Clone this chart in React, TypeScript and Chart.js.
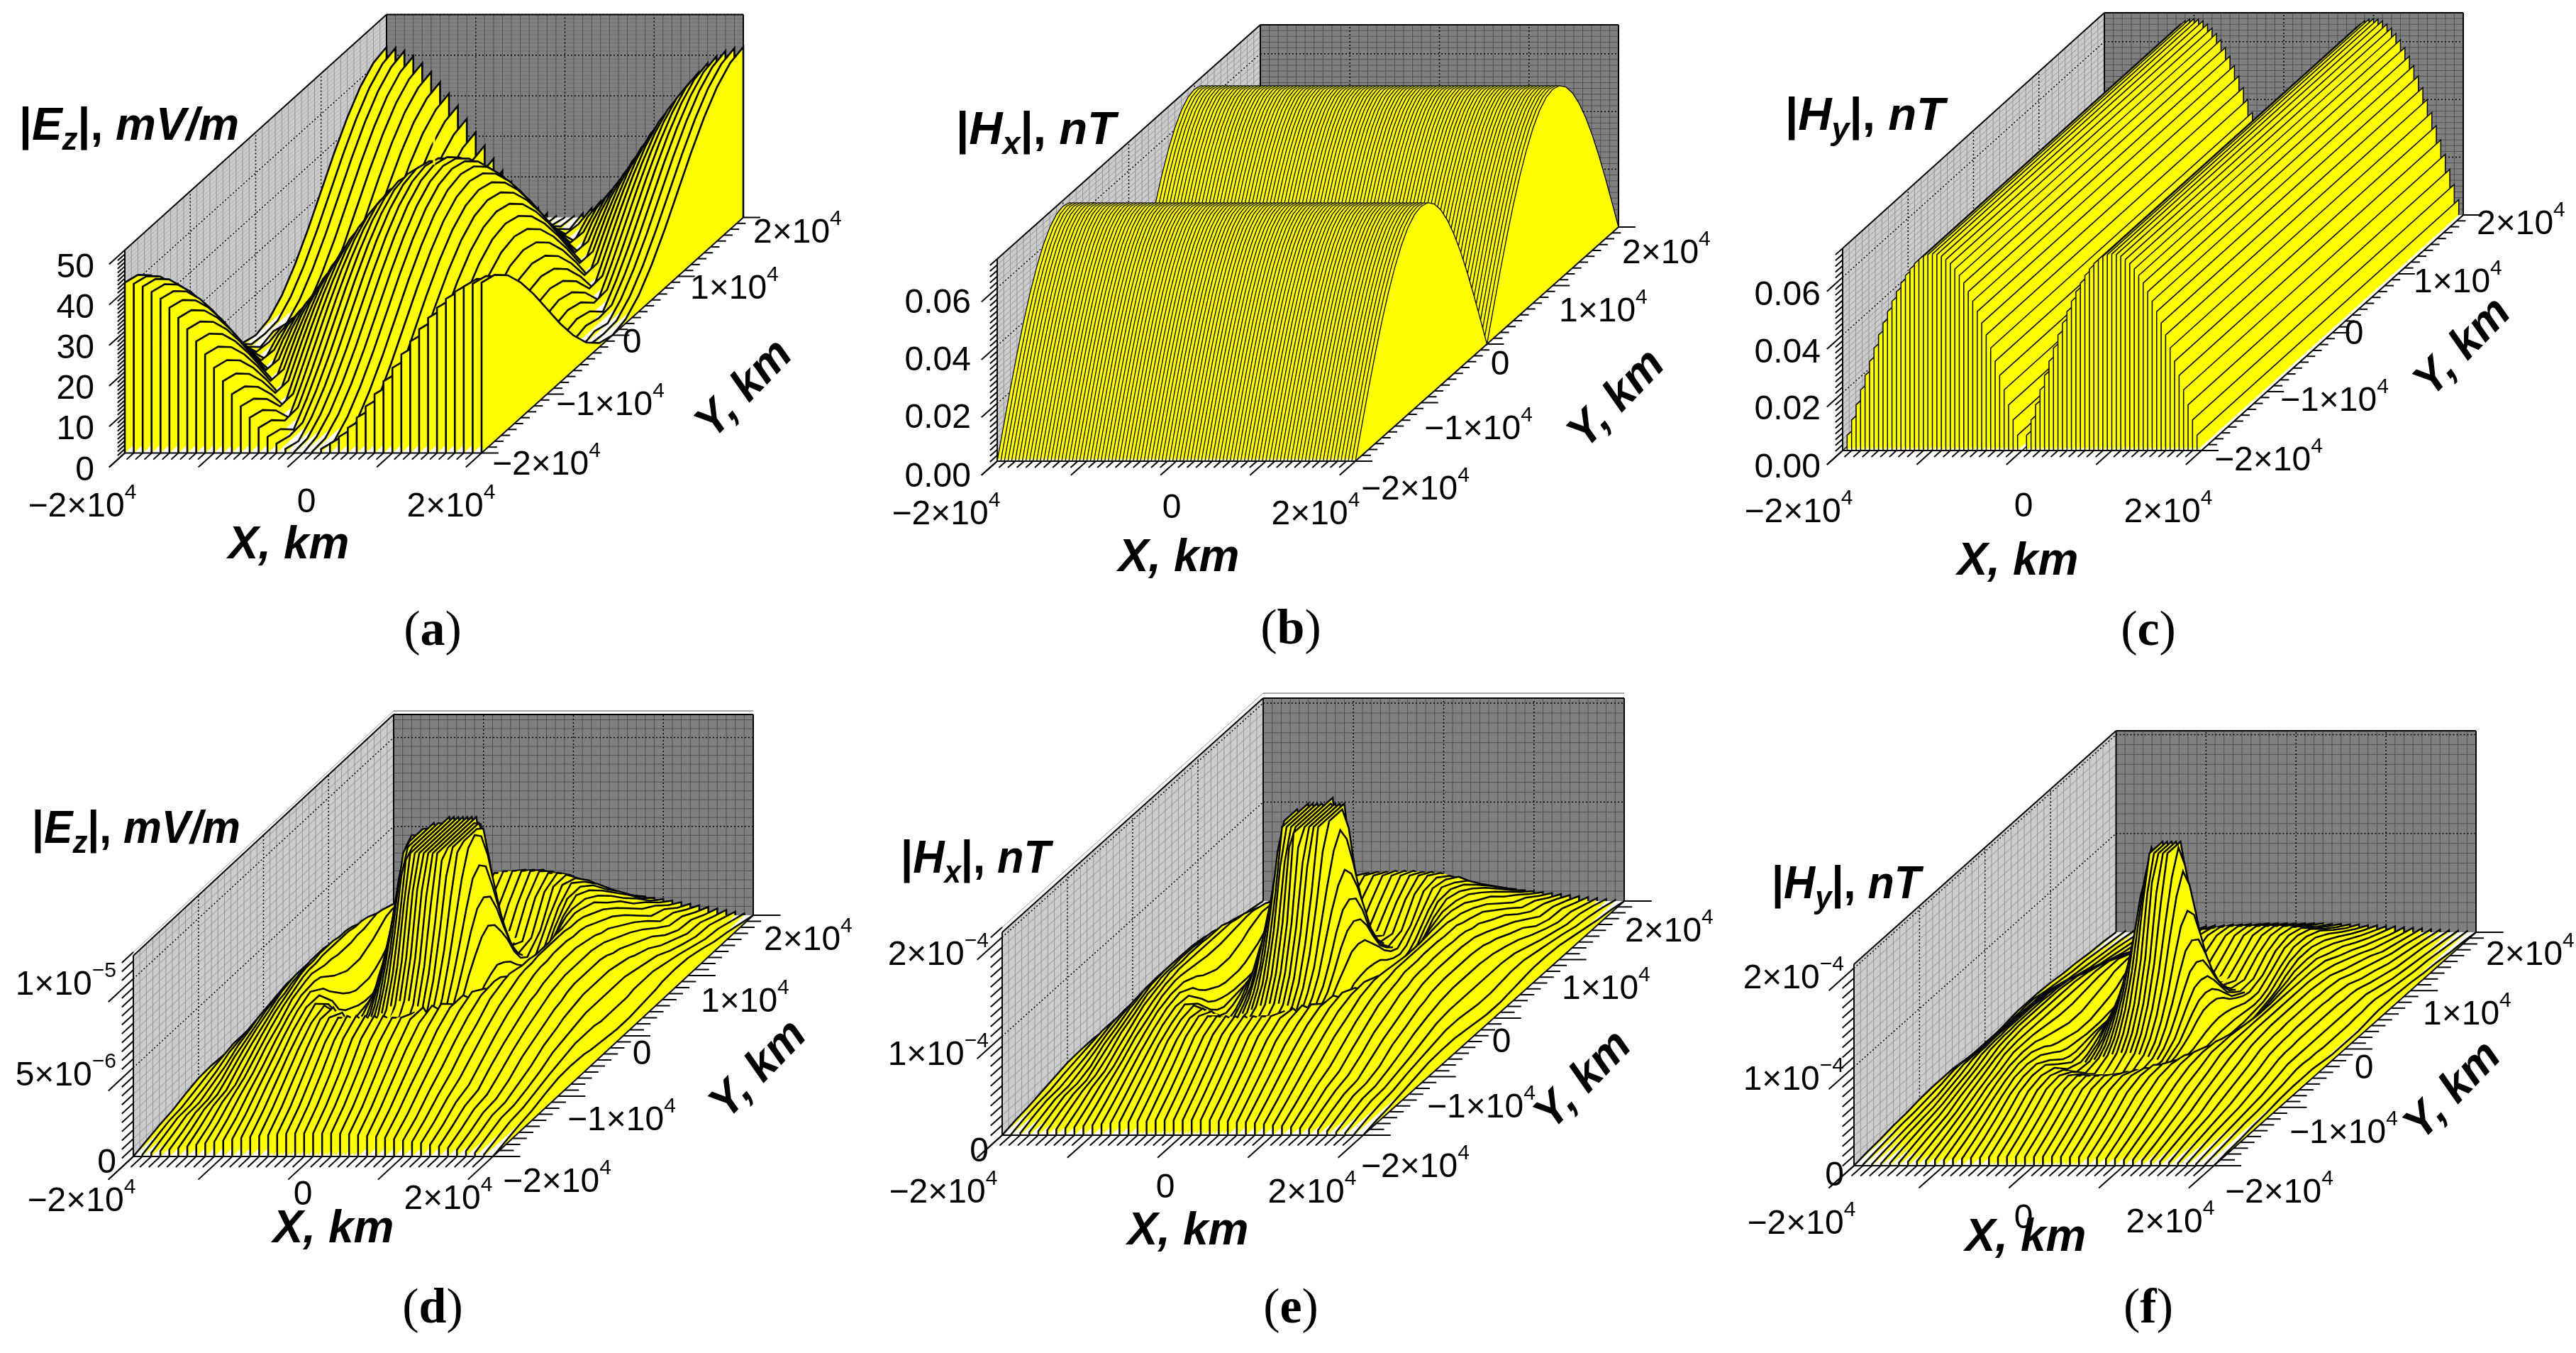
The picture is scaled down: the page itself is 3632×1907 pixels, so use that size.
import React, { useEffect, useRef } from "react";
import { Chart, registerables } from "chart.js";

Chart.register(...registerables);

// All surface heights below are estimates. X and Y are in 1000 km.
// Each table is one quadrant; the other three are mirrored because the plotted fields look symmetric.

const aXHalfColumns = [0, 1, 2, 3, 4, 5, 6, 7, 8, 9, 10, 11, 12, 13, 14, 15, 16, 17, 18, 19, 20];
const spikeXHalfColumns = [0, 0.5, 1, 1.5, 2, 2.5, 3, 3.5, 4, 4.5, 5, 6, 7, 8, 9, 10, 11, 12, 13, 14, 15, 16, 17, 18, 19, 20];
const aYRows = [0, 2, 4, 6, 8, 10, 12, 14, 16, 18, 20];
const spikeYRows = [0, 1, 2, 3, 4, 5, 6, 8, 10, 12, 14, 16, 18, 20];

// |Ez| mV/m: zero along the diamond |X|+|Y| = 20
const aTable = [
  [42, 41.7, 41, 39.7, 38, 35.8, 33.3, 30.5, 27.5, 24.3, 21, 17.7, 14.5, 11.5, 8.7, 6.2, 4, 2.3, 1, 0.3, 0],
  [41, 40.7, 40, 38.7, 37, 34.8, 32.3, 29.5, 26.5, 23.3, 20, 16.7, 13.5, 10.5, 7.7, 5.2, 3, 1.3, 0, 0.7, 1],
  [38, 37.7, 37, 35.7, 34, 31.8, 29.3, 26.5, 23.5, 20.3, 17, 13.7, 10.5, 7.5, 4.7, 2.2, 0, 1.7, 3, 3.7, 4],
  [33.3, 33, 32.3, 31, 29.3, 27.1, 24.6, 21.8, 18.8, 15.6, 12.3, 9, 5.8, 2.8, 0, 2.5, 4.7, 6.4, 7.7, 8.4, 8.7],
  [27.5, 27.2, 26.5, 25.2, 23.5, 21.3, 18.8, 16, 13, 9.8, 6.5, 3.2, 0, 3, 5.8, 8.3, 10.5, 12.2, 13.5, 14.2, 14.5],
  [21, 20.7, 20, 18.7, 17, 14.8, 12.3, 9.5, 6.5, 3.3, 0, 3.3, 6.5, 9.5, 12.3, 14.8, 17, 18.7, 20, 20.7, 21],
  [14.5, 14.2, 13.5, 12.2, 10.5, 8.3, 5.8, 3, 0, 3.2, 6.5, 9.8, 13, 16, 18.8, 21.3, 23.5, 25.2, 26.5, 27.2, 27.5],
  [8.7, 8.4, 7.7, 6.4, 4.7, 2.5, 0, 2.8, 5.8, 9, 12.3, 15.6, 18.8, 21.8, 24.6, 27.1, 29.3, 31, 32.3, 33, 33.3],
  [4, 3.7, 3, 1.7, 0, 2.2, 4.7, 7.5, 10.5, 13.7, 17, 20.3, 23.5, 26.5, 29.3, 31.8, 34, 35.7, 37, 37.7, 38],
  [1, 0.7, 0, 1.3, 3, 5.2, 7.7, 10.5, 13.5, 16.7, 20, 23.3, 26.5, 29.5, 32.3, 34.8, 37, 38.7, 40, 40.7, 41],
  [0, 0.3, 1, 2.3, 4, 6.2, 8.7, 11.5, 14.5, 17.7, 21, 24.3, 27.5, 30.5, 33.3, 35.8, 38, 39.7, 41, 41.7, 42],
];
const aCentreStick = [42, 49.5];

// |Hx| in 1e-3 nT against Y from -20 to 20; nearly unchanged with X
const bProfileY = [0, 10.6, 21, 30.9, 40, 48.1, 55, 60.6, 64.7, 67.2, 68, 67.2, 64.7, 60.6, 55, 48.1, 40, 30.9, 21, 10.6, 0, 10.6, 21, 30.9, 40, 48.1, 55, 60.6, 64.7, 67.2, 68, 67.2, 64.7, 60.6, 55, 48.1, 40, 30.9, 21, 10.6, 0];

// |Hy| in 1e-3 nT against X from -20 to 20; nearly unchanged with Y
const cProfileX = [0, 5.3, 10.6, 15.8, 21, 26, 30.9, 35.5, 40, 44.1, 48.1, 51.7, 55, 58, 60.6, 62.8, 64.7, 66.1, 67.2, 67.8, 68, 67.8, 67.2, 66.1, 64.7, 62.8, 60.6, 58, 55, 51.7, 48.1, 44.1, 40, 35.5, 30.9, 26, 21, 15.8, 10.6, 5.3, 0, 5.3, 10.6, 15.8, 21, 26, 30.9, 35.5, 40, 44.1, 48.1, 51.7, 55, 58, 60.6, 62.8, 64.7, 66.1, 67.2, 67.8, 68, 67.8, 67.2, 66.1, 64.7, 62.8, 60.6, 58, 55, 51.7, 48.1, 44.1, 40, 35.5, 30.9, 26, 21, 15.8, 10.6, 5.3, 0];

// |Ez| in 1e-6 mV/m
const dTable = [
  [11.3, 11.3, 11.3, 11.3, 11.3, 11.3, 11.3, 11.3, 9.6, 7.8, 6.2, 4, 2.7, 2.3, 2.9, 4, 4.9, 5.2, 5, 4.6, 4.1, 3.6, 3, 2.3, 1.5, 0.7],
  [11.3, 11.3, 11.3, 11.3, 11.3, 11.3, 11.3, 10.9, 9.2, 7.5, 5.9, 3.8, 2.7, 2.3, 2.9, 4, 4.9, 5.2, 5, 4.6, 4.1, 3.6, 3, 2.3, 1.5, 0.7],
  [11.3, 11.3, 11.3, 11.3, 11.3, 11.3, 11, 9.5, 7.8, 6.5, 5.2, 3.5, 2.5, 2.4, 3.1, 4.2, 5, 5.2, 4.9, 4.5, 4.1, 3.6, 3, 2.3, 1.5, 0.75],
  [11.3, 11.3, 11.3, 11.3, 10.9, 10, 8.8, 7.5, 6.2, 5.2, 4.4, 3, 2.4, 2.6, 3.4, 4.4, 5, 5.1, 4.9, 4.4, 4, 3.5, 2.9, 2.3, 1.6, 0.8],
  [9.6, 9.5, 9.2, 8.7, 7.8, 7.2, 6.2, 5.5, 4.7, 4, 3.4, 2.6, 2.3, 2.8, 3.8, 4.7, 5.1, 5.1, 4.8, 4.3, 3.9, 3.3, 2.8, 2.2, 1.6, 0.85],
  [6.2, 6.1, 5.9, 5.6, 5.2, 4.8, 4.4, 3.8, 3.4, 3, 2.7, 2.4, 2.5, 3.2, 4.2, 5, 5.2, 5, 4.6, 4.1, 3.7, 3.2, 2.7, 2.1, 1.6, 0.9],
  [4, 4, 3.8, 3.7, 3.5, 3.3, 3, 2.8, 2.6, 2.5, 2.4, 2.6, 3.1, 4, 4.7, 5.1, 5.1, 4.8, 4.4, 4, 3.5, 3, 2.5, 2, 1.6, 1],
  [2.3, 2.3, 2.3, 2.35, 2.4, 2.5, 2.6, 2.7, 2.8, 3, 3.2, 4, 4.5, 5, 5.2, 5, 4.8, 4.4, 4, 3.5, 3.1, 2.6, 2.2, 1.8, 1.4, 1.05],
  [4, 4, 4, 4.1, 4.2, 4.3, 4.4, 4.5, 4.7, 4.85, 5, 5.1, 5.2, 5, 4.8, 4.5, 4.1, 3.8, 3.4, 3, 2.6, 2.2, 1.7, 1.4, 1.2, 1],
  [5.2, 5.2, 5.2, 5.2, 5.2, 5.15, 5.1, 5.1, 5.1, 5.05, 5, 4.8, 4.6, 4.4, 4.1, 3.8, 3.5, 3.1, 2.7, 2.4, 2, 1.6, 1.35, 1.1, 0.95, 0.8],
  [4.6, 4.6, 4.6, 4.55, 4.5, 4.45, 4.4, 4.35, 4.3, 4.2, 4.1, 4, 3.8, 3.5, 3.3, 3, 2.7, 2.4, 2, 1.7, 1.45, 1.2, 1, 0.85, 0.7, 0.55],
  [3.3, 3.3, 3.3, 3.3, 3.3, 3.25, 3.25, 3.2, 3.2, 3.15, 3.1, 3, 2.85, 2.7, 2.5, 2.3, 2.1, 1.9, 1.7, 1.5, 1.3, 1.1, 0.95, 0.8, 0.6, 0.4],
  [2.2, 2.2, 2.2, 2.2, 2.2, 2.15, 2.15, 2.1, 2.1, 2.07, 2.05, 2, 1.9, 1.8, 1.65, 1.5, 1.4, 1.25, 1.1, 1, 0.85, 0.7, 0.6, 0.5, 0.35, 0.2],
  [1.3, 1.3, 1.3, 1.3, 1.3, 1.29, 1.28, 1.27, 1.25, 1.22, 1.2, 1.15, 1.1, 1.05, 0.98, 0.9, 0.82, 0.74, 0.65, 0.56, 0.47, 0.38, 0.3, 0.2, 0.1, 0],
];

// |Hx| in 1e-5 nT
const eTable = [
  [20.5, 20.5, 20.5, 20.5, 20.5, 20.5, 19, 15, 12, 9.8, 7.5, 5, 3.8, 3.5, 4.2, 5.5, 6.9, 7.3, 7.1, 6.6, 6, 5.2, 4.3, 3.2, 2, 1],
  [20.5, 20.5, 20.5, 20.5, 20.5, 20.5, 17.5, 14, 11.5, 9.4, 7.3, 4.9, 3.8, 3.5, 4.2, 5.5, 6.9, 7.3, 7.1, 6.6, 6, 5.2, 4.3, 3.2, 2, 1],
  [20.5, 20.5, 20.5, 20.5, 20.5, 18, 14.5, 12, 9.8, 8.2, 6.4, 4.7, 3.7, 3.6, 4.4, 5.8, 7, 7.3, 7, 6.5, 6, 5.2, 4.3, 3.2, 2.1, 1.1],
  [20.5, 19, 17.5, 17, 14.5, 13, 11, 9.4, 7.5, 6.5, 5.5, 4.1, 3.6, 3.8, 4.8, 6.1, 7.1, 7.3, 7, 6.5, 5.9, 5.1, 4.2, 3.2, 2.2, 1.2],
  [12, 12, 11.5, 11, 9.8, 8.8, 7.5, 6.7, 5.6, 5, 4.5, 3.7, 3.5, 4.1, 5.2, 6.6, 7.2, 7.3, 7, 6.4, 5.8, 5, 4.1, 3.2, 2.3, 1.3],
  [7.5, 7.5, 7.3, 7, 6.4, 6, 5.5, 5, 4.5, 4.2, 3.8, 3.5, 3.8, 4.6, 5.8, 6.9, 7.3, 7.1, 6.7, 6.1, 5.5, 4.7, 3.9, 3.1, 2.3, 1.4],
  [5, 5, 4.9, 4.8, 4.7, 4.4, 4.1, 4, 3.7, 3.6, 3.5, 3.8, 4.4, 5.5, 6.6, 7.2, 7.3, 7, 6.5, 6, 5.2, 4.5, 3.7, 3, 2.3, 1.5],
  [3.5, 3.5, 3.5, 3.55, 3.6, 3.7, 3.8, 3.95, 4.1, 4.3, 4.6, 5.5, 6.2, 7, 7.3, 7.1, 6.9, 6.4, 6, 5.2, 4.5, 3.8, 3.2, 2.5, 2, 1.5],
  [5.5, 5.5, 5.5, 5.6, 5.8, 5.95, 6.1, 6.4, 6.6, 6.8, 6.9, 7.2, 7.3, 7.1, 6.9, 6.6, 6, 5.6, 5, 4.5, 3.8, 3.2, 2.5, 2, 1.7, 1.4],
  [7.3, 7.3, 7.3, 7.3, 7.3, 7.3, 7.3, 7.3, 7.3, 7.2, 7.1, 6.9, 6.6, 6.4, 6, 5.6, 5.2, 4.5, 4, 3.4, 2.9, 2.2, 1.9, 1.6, 1.4, 1.1],
  [6.6, 6.6, 6.6, 6.55, 6.5, 6.5, 6.5, 6.45, 6.4, 6.3, 6.1, 6, 5.6, 5.2, 4.9, 4.5, 4, 3.4, 2.9, 2.5, 2, 1.7, 1.4, 1.2, 1, 0.8],
  [4.8, 4.8, 4.8, 4.8, 4.8, 4.75, 4.7, 4.65, 4.6, 4.55, 4.5, 4.3, 4.1, 3.9, 3.6, 3.3, 3, 2.7, 2.4, 2.1, 1.8, 1.6, 1.3, 1.1, 0.8, 0.5],
  [3.1, 3.1, 3.1, 3.1, 3.1, 3.05, 3, 3, 3, 2.95, 2.9, 2.8, 2.7, 2.5, 2.3, 2.1, 1.9, 1.7, 1.5, 1.4, 1.2, 1, 0.8, 0.7, 0.5, 0.3],
  [1.5, 1.5, 1.5, 1.5, 1.5, 1.5, 1.5, 1.45, 1.4, 1.4, 1.4, 1.3, 1.3, 1.2, 1.1, 1, 0.9, 0.8, 0.7, 0.6, 0.5, 0.4, 0.3, 0.2, 0.1, 0],
];

// |Hy| in 1e-5 nT
const fTable = [
  [20.4, 20.4, 20.4, 20.4, 18, 14, 11, 8.8, 7, 5.7, 4.6, 3.2, 2.4, 2.1, 2.4, 3.2, 4, 4.4, 4.4, 4.2, 3.8, 3.3, 2.7, 2, 1.3, 0.6],
  [20.4, 20.4, 20.4, 18, 16, 13, 10.5, 8.4, 6.8, 5.5, 4.5, 3.1, 2.4, 2.1, 2.4, 3.2, 4, 4.4, 4.4, 4.2, 3.8, 3.3, 2.7, 2, 1.3, 0.6],
  [18, 17, 16, 14, 12.5, 10.4, 8.6, 7, 5.8, 4.8, 4, 2.9, 2.3, 2.2, 2.6, 3.4, 4.1, 4.4, 4.4, 4.2, 3.8, 3.3, 2.7, 2, 1.3, 0.6],
  [11, 10.8, 10.5, 9.6, 8.6, 7.4, 6.4, 5.4, 4.6, 3.9, 3.3, 2.6, 2.2, 2.3, 2.8, 3.6, 4.2, 4.4, 4.4, 4.2, 3.7, 3.2, 2.7, 2, 1.4, 0.7],
  [7, 6.9, 6.8, 6.4, 5.8, 5.2, 4.6, 4, 3.4, 3, 2.8, 2.3, 2.1, 2.4, 3, 3.8, 4.3, 4.4, 4.4, 4.1, 3.7, 3.2, 2.6, 2, 1.4, 0.8],
  [4.6, 4.5, 4.5, 4.3, 4, 3.6, 3.3, 3, 2.8, 2.6, 2.4, 2.2, 2.2, 2.7, 3.3, 4, 4.4, 4.4, 4.3, 4, 3.6, 3.1, 2.6, 2, 1.5, 0.9],
  [3.2, 3.15, 3.1, 3, 2.9, 2.75, 2.6, 2.45, 2.3, 2.2, 2.2, 2.2, 2.5, 3.2, 3.8, 4.3, 4.4, 4.4, 4.2, 3.9, 3.5, 3, 2.5, 2, 1.5, 0.9],
  [2.1, 2.1, 2.1, 2.15, 2.2, 2.25, 2.3, 2.35, 2.4, 2.55, 2.7, 3.2, 3.6, 4.1, 4.4, 4.4, 4.4, 4.2, 3.8, 3.3, 2.9, 2.4, 2, 1.6, 1.2, 0.9],
  [3.2, 3.2, 3.2, 3.3, 3.4, 3.5, 3.6, 3.7, 3.8, 3.9, 4, 4.3, 4.4, 4.4, 4.4, 4.2, 3.8, 3.5, 3.2, 2.8, 2.4, 2, 1.6, 1.2, 1, 0.8],
  [4.4, 4.4, 4.4, 4.4, 4.4, 4.4, 4.4, 4.4, 4.4, 4.4, 4.4, 4.4, 4.3, 4.2, 3.9, 3.6, 3.3, 2.9, 2.6, 2.3, 1.9, 1.5, 1.2, 1, 0.8, 0.6],
  [4.2, 4.2, 4.2, 4.2, 4.2, 4.2, 4.2, 4.15, 4.1, 4.05, 4, 3.9, 3.7, 3.4, 3.1, 2.8, 2.5, 2.2, 1.9, 1.6, 1.4, 1.2, 1, 0.8, 0.7, 0.5],
  [3, 3, 3, 3, 3, 3, 3, 2.95, 2.9, 2.85, 2.8, 2.7, 2.6, 2.4, 2.2, 2, 1.8, 1.6, 1.4, 1.2, 1.1, 0.9, 0.8, 0.6, 0.5, 0.3],
  [1.9, 1.9, 1.9, 1.9, 1.9, 1.9, 1.9, 1.85, 1.8, 1.8, 1.8, 1.7, 1.6, 1.5, 1.4, 1.3, 1.2, 1, 0.9, 0.8, 0.7, 0.6, 0.5, 0.4, 0.3, 0.2],
  [0.9, 0.9, 0.9, 0.9, 0.9, 0.9, 0.9, 0.87, 0.85, 0.85, 0.85, 0.8, 0.8, 0.7, 0.7, 0.6, 0.6, 0.5, 0.45, 0.4, 0.3, 0.25, 0.2, 0.15, 0.1, 0],
];

const xTickLabels: [string, string | null][] = [["−2×10", "4"], ["0", null], ["2×10", "4"]];
const yTickLabels: [string, string | null][] = [["−2×10", "4"], ["−1×10", "4"], ["0", null], ["1×10", "4"], ["2×10", "4"]];
const zLabelsA: [string, string | null][] = [["0", null], ["10", null], ["20", null], ["30", null], ["40", null], ["50", null]];
const zLabelsH: [string, string | null][] = [["0.00", null], ["0.02", null], ["0.04", null], ["0.06", null]];
const zLabelsD: [string, string | null][] = [["0", null], ["5×10", "−6"], ["1×10", "−5"]];
const zLabelsEF: [string, string | null][] = [["0", null], ["1×10", "−4"], ["2×10", "−4"]];

const gridCols = (n: number) => Array.from({ length: n }, (_, i) => -20 + (40 * i) / (n - 1));
const mirror = (a: number[]) => [...a.slice(1).reverse(), ...a];

function columnsFromQuadrant(table: number[][], rows: number[], xHalf: number[]) {
  const ys = mirror(rows).map((v, i) => (i < rows.length - 1 ? -v : v));
  const zRows = mirror(table.map((_, i) => i));
  const idx = mirror(xHalf.map((_, i) => i));
  return idx.map((ix, k) => ({
    X: k < xHalf.length - 1 ? -xHalf[ix] : xHalf[ix],
    Y: ys,
    Z: zRows.map((r) => table[r][ix]),
  }));
}

const yUnit = gridCols(41);
const bCols = gridCols(101).map((X) => ({ X, Y: yUnit, Z: bProfileY }));
const cCols = gridCols(81).map((X, i) => ({ X, Y: [-20, 20], Z: [cProfileX[i], cProfileX[i]] }));

const panels: any[] = [
  { id: "a", cx: 0, cy: 0, x0: 176, y0: 638.5, W: 503, Dx: 369, Dy: 332, H: 286, zMax: 50, zMajor: 10, zMinor: 1, tick: 1, lw: 2.6,
    cols: columnsFromQuadrant(aTable, aYRows, aXHalfColumns), zl: zLabelsA, zRight: 133, zY: [664, 606, 549, 492, 435, 378],
    xl: [[116, 715], [432, 709], [636, 715]], yl: [[694, 656], [784, 572], [891, 484], [973, 408], [1062, 329]],
    title: ["E", "z", "mV/m"], tl: [27, 337, 179], xt: [407, 769], yt: [1050, 549], cap: [610, 891] },
  { id: "b", cx: 1210, cy: 0, x0: 1406, y0: 650, W: 505, Dx: 371, Dy: 330, H: 285, zMax: 70, zMajor: 20, zMinor: 2, tick: 1, lw: 1.3,
    cols: bCols, zl: zLabelsH, zRight: 1369, zY: [673, 590, 509, 428],
    xl: [[1334, 726], [1652, 717], [1855, 726]], yl: [[1919, 691], [2008, 606], [2115, 515], [2198, 440], [2287, 358]],
    title: ["H", "x", "nT"], tl: [1348, 1573, 185], xt: [1662, 787], yt: [2280, 563], cap: [1820, 889] },
  { id: "c", cx: 2420, cy: 0, x0: 2598, y0: 635, W: 506, Dx: 369, Dy: 332, H: 285, zMax: 70, zMajor: 20, zMinor: 2, tick: 1, lw: 1.5,
    cols: cCols, zl: zLabelsH, zRight: 2567, zY: [660, 578, 498, 417],
    xl: [[2536, 723], [2853, 715], [3057, 723]], yl: [[3122, 650], [3215, 566], [3319, 472], [3403, 399], [3492, 317]],
    title: ["H", "y", "nT"], tl: [2517, 2742, 165], xt: [2845, 792], yt: [3473, 490], cap: [3029, 891] },
  { id: "d", cx: 0, cy: 950, x0: 188, y0: 1630, W: 507, Dx: 367, Dy: 340, H: 283, zMax: 11.3, zMajor: 5, zMinor: 0.5, tick: 1.6, lw: 2.5,
    cols: columnsFromQuadrant(dTable, spikeYRows, spikeXHalfColumns), zl: zLabelsD, zRight: 164, zY: [1640, 1517, 1389],
    xl: [[115, 1694], [427, 1685], [632, 1691]], yl: [[709, 1667], [800, 1580], [905, 1487], [988, 1413], [1077, 1326]],
    title: ["E", "z", "mV/m"], tl: [45, 339, 1170], xt: [470, 1733], yt: [1070, 1508], cap: [610, 1846] },
  { id: "e", cx: 1210, cy: 950, x0: 1413, y0: 1600, W: 509, Dx: 368, Dy: 330, H: 286, zMax: 20.5, zMajor: 10, zMinor: 1, tick: 1.6, lw: 2.5,
    cols: columnsFromQuadrant(eTable, spikeYRows, spikeXHalfColumns), zl: zLabelsEF, zRight: 1394, zY: [1624, 1488, 1347],
    xl: [[1330, 1682], [1643, 1675], [1850, 1682]], yl: [[1919, 1646], [2012, 1562], [2117, 1470], [2202, 1395], [2291, 1314]],
    title: ["H", "x", "nT"], tl: [1270, 1481, 1212], xt: [1675, 1736], yt: [2233, 1523], cap: [1820, 1846] },
  { id: "f", cx: 2420, cy: 950, x0: 2614, y0: 1643, W: 507.5, Dx: 369.5, Dy: 329, H: 284, zMax: 20.4, zMajor: 10, zMinor: 1, tick: 1.6, lw: 2.5,
    cols: columnsFromQuadrant(fTable, spikeYRows, spikeXHalfColumns), zl: zLabelsEF, zRight: 2600, zY: [1658, 1523, 1380],
    xl: [[2540, 1726], [2853, 1718], [3060, 1724]], yl: [[3137, 1682], [3228, 1598], [3333, 1507], [3416, 1431], [3505, 1347]],
    title: ["H", "y", "nT"], tl: [2498, 2708, 1248], xt: [2856, 1745], yt: [3459, 1538], cap: [3029, 1846] },
];

const CELL_W = 1212;
const CELL_H = 957;
const TICK_FONT = "48px 'Liberation Sans'";
const SUP_FONT = "30px 'Liberation Sans'";

function tickText(ctx: any, t: [string, string | null], x: number, y: number, mode: "left" | "right" | "center") {
  ctx.font = TICK_FONT;
  const w1 = ctx.measureText(t[0]).width;
  let w2 = 0;
  if (t[1]) {
    ctx.font = SUP_FONT;
    w2 = ctx.measureText(t[1]).width;
  }
  const total = w1 + w2;
  const left = mode === "left" ? x : mode === "right" ? x - total : x - total / 2;
  ctx.fillStyle = "#000";
  ctx.textAlign = "left";
  ctx.textBaseline = "middle";
  ctx.font = TICK_FONT;
  ctx.fillText(t[0], left, y);
  if (t[1]) {
    ctx.font = SUP_FONT;
    ctx.fillText(t[1], left + w1, y - 20);
  }
}

function makePlugin(p: any) {
  const sx = p.Dx / p.W;
  const sy = ((p.Dy / p.H) * p.zMax) / 40;
  const pt = (chart: any, X: number, Y: number, Z: number) => [
    chart.scales.x.getPixelForValue(X + sx * (Y + 20)),
    chart.scales.y.getPixelForValue(Z + sy * (Y + 20)),
  ];
  const seg = (ctx: any, a: number[], b: number[]) => {
    ctx.beginPath();
    ctx.moveTo(a[0], a[1]);
    ctx.lineTo(b[0], b[1]);
    ctx.stroke();
  };
  const poly = (ctx: any, pts: number[][], fill: string) => {
    ctx.beginPath();
    pts.forEach((q, i) => (i ? ctx.lineTo(q[0], q[1]) : ctx.moveTo(q[0], q[1])));
    ctx.closePath();
    ctx.fillStyle = fill;
    ctx.fill();
  };
  const ox = p.cx;
  const oy = p.cy;
  const dense = p.zMinor * (p.H / p.zMax) < 8;
  return {
    id: "panel" + p.id,
    beforeDatasetsDraw(chart: any) {
      const c = chart.ctx;
      c.save();
      poly(c, [pt(chart, -20, 20, 0), pt(chart, 20, 20, 0), pt(chart, 20, 20, p.zMax), pt(chart, -20, 20, p.zMax)], "#808080");
      poly(c, [pt(chart, -20, -20, 0), pt(chart, -20, 20, 0), pt(chart, -20, 20, p.zMax), pt(chart, -20, -20, p.zMax)], "#cccccc");
      const steps = Math.round(p.zMax / p.zMinor);
      const majorEvery = Math.round(p.zMajor / p.zMinor);
      c.setLineDash([]);
      for (let i = 0; i <= steps; i++) {
        if (i % majorEvery === 0) continue;
        const z = i * p.zMinor;
        c.lineWidth = dense ? 0.7 : 1;
        c.strokeStyle = dense ? "#686868" : "#505050";
        seg(c, pt(chart, -20, 20, z), pt(chart, 20, 20, z));
        c.strokeStyle = dense ? "#a4a4a4" : "#959595";
        seg(c, pt(chart, -20, -20, z), pt(chart, -20, 20, z));
      }
      for (let v = -20; v <= 20; v += 1) {
        if (v % 10 === 0) continue;
        c.lineWidth = 1;
        c.strokeStyle = "#505050";
        seg(c, pt(chart, v, 20, 0), pt(chart, v, 20, p.zMax));
        c.strokeStyle = "#959595";
        seg(c, pt(chart, -20, v, 0), pt(chart, -20, v, p.zMax));
      }
      c.setLineDash([2, 3]);
      c.lineWidth = 1.5;
      c.strokeStyle = "#000";
      for (let v = -10; v <= 10; v += 10) {
        seg(c, pt(chart, v, 20, 0), pt(chart, v, 20, p.zMax));
        seg(c, pt(chart, -20, v, 0), pt(chart, -20, v, p.zMax));
      }
      for (let i = majorEvery; i <= steps; i += majorEvery) {
        const z = i * p.zMinor;
        seg(c, pt(chart, -20, 20, z), pt(chart, 20, 20, z));
        seg(c, pt(chart, -20, -20, z), pt(chart, -20, 20, z));
      }
      c.setLineDash([]);
      c.strokeStyle = "#000";
      c.lineWidth = 2;
      seg(c, pt(chart, -20, 20, 0), pt(chart, -20, 20, p.zMax));
      seg(c, pt(chart, -20, 20, p.zMax), pt(chart, 20, 20, p.zMax));
      seg(c, pt(chart, 20, 20, p.zMax), pt(chart, 20, 20, 0));
      seg(c, pt(chart, -20, -20, p.zMax), pt(chart, -20, 20, p.zMax));
      c.restore();
    },
    afterDatasetsDraw(chart: any) {
      const c = chart.ctx;
      c.save();
      c.strokeStyle = "#000";
      c.lineWidth = 2;
      seg(c, pt(chart, -20, -20, 0), pt(chart, 20, -20, 0));
      seg(c, pt(chart, 20, -20, 0), pt(chart, 20, 20, 0));
      seg(c, pt(chart, -20, -20, 0), pt(chart, -20, -20, p.zMax));
      for (let v = -20; v <= 20; v += 1) {
        const major = v % 10 === 0;
        const yLen = (major ? 2.4 : 1.1) * p.tick;
        const xLen = (major ? 1.9 : 1) * p.tick;
        seg(c, pt(chart, v, -20, 0), pt(chart, v, -20 - yLen, 0));
        seg(c, pt(chart, 20, v, 0), pt(chart, 20 + xLen, v, 0));
      }
      const steps = Math.round(p.zMax / p.zMinor);
      const majorEvery = Math.round(p.zMajor / p.zMinor);
      for (let i = 0; i <= steps; i++) {
        const yLen = (i % majorEvery === 0 ? 2.4 : 1.1) * p.tick;
        seg(c, pt(chart, -20, -20, i * p.zMinor), pt(chart, -20, -20 - yLen, i * p.zMinor));
      }
      p.zl.forEach((t: any, i: number) => tickText(c, t, p.zRight - ox, p.zY[i] - oy, "right"));
      xTickLabels.forEach((t, i) => tickText(c, t, p.xl[i][0] - ox, p.xl[i][1] - oy, "center"));
      yTickLabels.forEach((t, i) => tickText(c, t, p.yl[i][0] - ox, p.yl[i][1] - oy, t[1] ? "left" : "center"));

      // axis titles
      c.fillStyle = "#000";
      c.textBaseline = "middle";
      c.textAlign = "center";
      c.font = "italic bold 64px 'Liberation Sans'";
      c.fillText("X, km", p.xt[0] - ox, p.xt[1] - oy);
      c.save();
      c.translate(p.yt[0] - ox, p.yt[1] - oy);
      c.rotate((-46 * Math.PI) / 180);
      c.fillText("Y, km", 0, 0);
      c.restore();

      // field title
      const main = "italic bold 64px 'Liberation Sans'";
      const sub = "italic bold 44px 'Liberation Sans'";
      const plain = "bold 64px 'Liberation Sans'";
      const pieces: [string, string, number][] = [
        ["|", plain, 0],
        [p.title[0], main, 0],
        [p.title[1], sub, 20],
        ["|, ", plain, 0],
        [p.title[2], main, 0],
      ];
      let total = 0;
      pieces.forEach((q) => {
        c.font = q[1];
        total += c.measureText(q[0]).width;
      });
      c.save();
      c.translate(p.tl[0] - ox, p.tl[2] - oy);
      c.scale((p.tl[1] - p.tl[0]) / total, 1);
      c.textAlign = "left";
      let cur = 0;
      pieces.forEach((q) => {
        c.font = q[1];
        c.fillText(q[0], cur, q[2]);
        cur += c.measureText(q[0]).width;
      });
      c.restore();

      // panel caption
      const capReg = "70px 'Liberation Serif'";
      const capBold = "bold 70px 'Liberation Serif'";
      c.textAlign = "left";
      c.font = capReg;
      const parL = c.measureText("(").width;
      const parR = c.measureText(")").width;
      c.font = capBold;
      const lw = c.measureText(p.id).width;
      let cx = p.cap[0] - ox - (parL + parR + lw) / 2;
      const cy = p.cap[1] - oy;
      c.font = capReg;
      c.fillText("(", cx, cy);
      cx += parL;
      c.font = capBold;
      c.fillText(p.id, cx, cy);
      cx += lw;
      c.font = capReg;
      c.fillText(")", cx, cy);
      c.restore();
    },
  };
}

function buildDatasets(p: any) {
  const sx = p.Dx / p.W;
  const sy = ((p.Dy / p.H) * p.zMax) / 40;
  const map = (X: number, Y: number, Z: number) => ({ x: X + sx * (Y + 20), y: Z + sy * (Y + 20) });
  const list: any[] = [];
  const spikePanel = p.id === "d" || p.id === "e" || p.id === "f";
  p.cols.forEach((col: any) => {
    const first = col.Y[0];
    const last = col.Y[col.Y.length - 1];
    const data = [
      map(col.X, first, 0),
      ...col.Y.map((y: number, i: number) => map(col.X, y, col.Z[i])),
      map(col.X, last, 0),
    ];
    const ds: any = {
      data,
      type: "scatter",
      showLine: true,
      fill: "shape",
      backgroundColor: "#ffff00",
      borderColor: "#000",
      borderWidth: p.lw,
      pointRadius: 0,
      tension: 0,
      clip: false,
    };
    // Half-step columns exist only around the spike, so their line is shown only there.
    if (spikePanel && !Number.isInteger(col.X)) {
      ds.segment = {
        borderColor: (ctx: any) => {
          const a = col.Y[ctx.p0DataIndex - 1];
          const b = col.Y[ctx.p1DataIndex - 1];
          return a !== undefined && b !== undefined && Math.abs(a) <= 6 && Math.abs(b) <= 6 ? "#000" : "rgba(0,0,0,0)";
        },
      };
    }
    list.push(ds);
    if (p.id === "a" && col.X === 0) {
      list.push({
        data: aCentreStick.map((z) => map(0, 0, z)),
        type: "scatter",
        showLine: true,
        borderColor: "#ffff00",
        borderWidth: 3,
        pointRadius: 0,
        clip: false,
      });
    }
  });
  return list.reverse(); // the first dataset is painted last, so the nearest column (X = +20) goes first
}

function Panel({ p }: { p: any }) {
  const ref = useRef<HTMLCanvasElement | null>(null);
  useEffect(() => {
    const pxX = 40 / p.W;
    const pxY = p.zMax / p.H;
    const xMin = -20 - (p.x0 - p.cx) * pxX;
    const yMin = -(p.cy + CELL_H - p.y0) * pxY;
    const chart = new Chart(ref.current as any, {
      type: "scatter",
      data: { datasets: buildDatasets(p) },
      plugins: [makePlugin(p)],
      options: {
        animation: false,
        responsive: false,
        devicePixelRatio: 1,
        layout: { padding: 0 },
        scales: {
          x: { type: "linear", display: false, min: xMin, max: xMin + CELL_W * pxX },
          y: { type: "linear", display: false, min: yMin, max: yMin + CELL_H * pxY },
        },
        plugins: {
          legend: { display: false },
          tooltip: { enabled: false },
          filler: { propagate: false },
        },
      },
    } as any);
    return () => chart.destroy();
  }, [p]);
  return (
    <canvas
      ref={ref}
      width={CELL_W}
      height={CELL_H}
      style={{ position: "absolute", left: p.cx, top: p.cy, width: CELL_W, height: CELL_H, display: "block" }}
    />
  );
}

export default function App() {
  return (
    <div style={{ position: "fixed", left: 0, top: 0, width: 3632, height: 1907, background: "#fff", overflow: "hidden" }}>
      {panels.map((p) => (
        <Panel key={p.id} p={p} />
      ))}
    </div>
  );
}
